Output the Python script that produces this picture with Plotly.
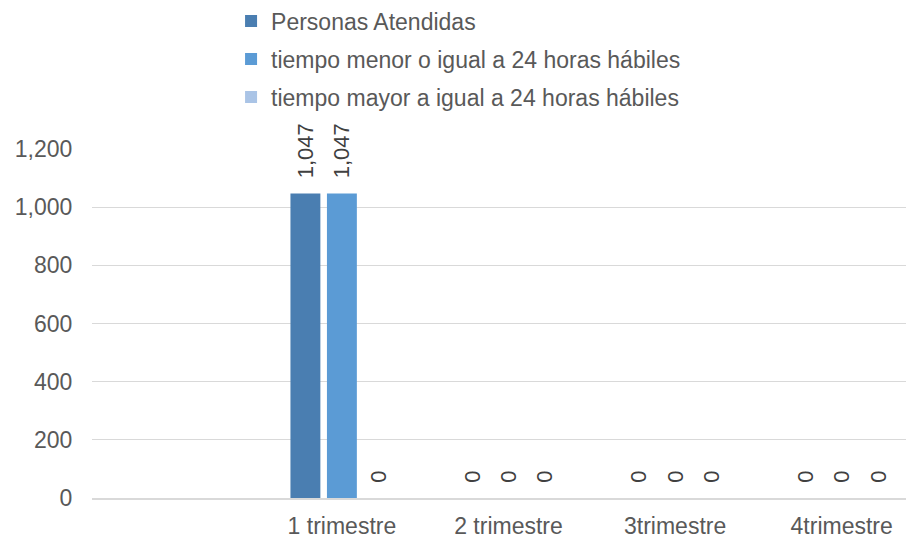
import plotly.graph_objects as go

categories = ["", "1 trimestre", "2 trimestre", "3trimestre", "4trimestre"]
personas = [None, 1047, 0, 0, 0]
menor_24 = [None, 1047, 0, 0, 0]
mayor_24 = [None, 0, 0, 0, 0]
series_names = [
    "Personas Atendidas",
    "tiempo menor o igual a 24 horas hábiles",
    "tiempo mayor a igual a 24 horas hábiles",
]
colors = ["#4A7EB1", "#5B9BD5", "#AAC4E6"]
y_ticks = [0, 200, 400, 600, 800, 1000, 1200]

FONT = "Liberation Sans, Arial, sans-serif"
FS = 23

fig = go.Figure()
for i, (name, vals) in enumerate(zip(series_names, [personas, menor_24, mayor_24])):
    fig.add_trace(go.Bar(
        x=categories, y=vals, name=name,
        marker=dict(color=colors[i], line=dict(width=0)),
        texttemplate="\u00a0\u00a0%{y:,}",
        textposition="outside",
        textangle=-90,
        constraintext="none",
        textfont=dict(family=FONT, size=22, color="#404040"),
        cliponaxis=False,
        legendgroup=f"g{i}",
    ))

# page body has an 8px default margin; figure sized to fill the rest of the window
fig.update_layout(
    width=906, height=530,
    margin=dict(l=84, r=4, t=141, b=40, autoexpand=False),
    paper_bgcolor="white", plot_bgcolor="white",
    barmode="group", bargap=0.343, bargroupgap=0.18,
    font=dict(family=FONT, size=FS, color="#595959"),
    showlegend=True,
    legend=dict(
        x=0.17, y=1.428, xanchor="left", yanchor="top",
        orientation="v", tracegroupgap=5,
        font=dict(family=FONT, size=FS, color="#595959"),
        bgcolor="rgba(0,0,0,0)",
    ),
)
fig.update_xaxes(
    type="category", range=[-0.5, 4.41], automargin=False,
    showgrid=False, showline=True, linecolor="#D9D9D9", linewidth=2,
    ticks="outside", ticklen=6, tickcolor="rgba(0,0,0,0)",
    tickfont=dict(family=FONT, size=FS, color="#595959"),
)
fig.update_yaxes(
    range=[0, 1200], tickvals=y_ticks, tickformat=",", automargin=False,
    showgrid=True, gridcolor="#D9D9D9", gridwidth=1,
    zeroline=False, showline=False,
    ticks="outside", ticklen=14, tickcolor="rgba(0,0,0,0)",
    tickfont=dict(family=FONT, size=FS, color="#595959"),
)

fig.write_html("out.html")
